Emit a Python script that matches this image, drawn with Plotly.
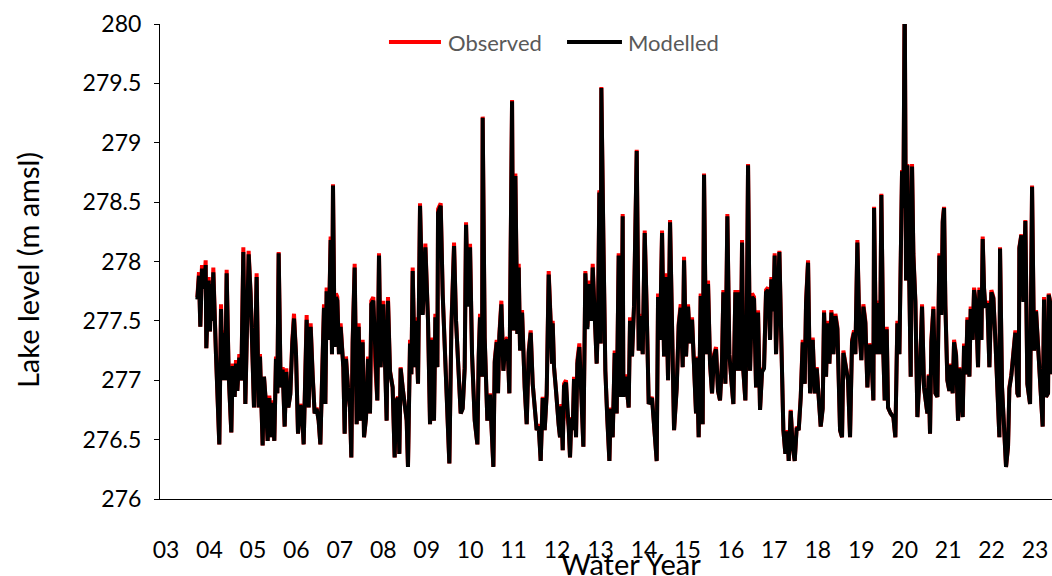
import plotly.graph_objects as go

years = [
2003.721,2003.759,2003.790,2003.828,2003.874,2003.913,2003.928,2003.982,2004.012,2004.043,2004.058,2004.089,2004.150,2004.227,2004.266,2004.304,2004.335,2004.365,2004.396,2004.442,2004.503,2004.534,2004.580,2004.611,2004.641,2004.687,2004.733,2004.780,2004.826,2004.902,2004.948,2004.979,2005.025,2005.086,2005.132,2005.163,2005.224,2005.255,
2005.301,2005.339,2005.378,2005.416,2005.455,2005.493,2005.531,2005.562,2005.593,2005.639,2005.685,2005.731,2005.769,2005.815,2005.861,2005.907,2005.946,2005.992,2006.038,2006.091,2006.130,2006.168,2006.199,2006.237,2006.283,2006.329,2006.375,2006.421,2006.467,2006.513,2006.552,2006.590,2006.636,2006.667,2006.697,2006.743,2006.789,2006.820,2006.843,2006.881,2006.912,
2006.943,2006.981,2007.019,2007.081,2007.112,2007.142,2007.188,2007.234,2007.265,2007.296,2007.342,2007.388,2007.434,2007.480,2007.526,2007.557,2007.603,2007.649,2007.695,2007.725,2007.771,2007.817,2007.863,2007.902,2007.940,2008.001,2008.048,2008.078,2008.109,2008.155,2008.216,2008.262,2008.293,2008.339,2008.370,2008.400,2008.446,2008.492,2008.539,2008.569,
2008.616,2008.647,2008.677,2008.723,2008.754,2008.800,2008.846,2008.908,2008.969,2009.030,2009.076,2009.122,2009.168,2009.199,2009.245,2009.261,2009.322,2009.368,2009.429,2009.475,2009.521,2009.567,2009.629,2009.675,2009.736,2009.782,2009.828,2009.874,2009.905,2009.951,2009.997,2010.043,2010.105,2010.166,2010.197,2010.227,
2010.273,2010.288,2010.334,2010.396,2010.457,2010.534,2010.565,2010.611,2010.641,2010.672,2010.718,2010.764,2010.810,2010.856,2010.902,2010.933,2010.964,2010.994,2011.040,2011.086,2011.117,2011.148,2011.194,2011.255,2011.301,2011.347,2011.393,2011.439,2011.485,2011.531,2011.577,2011.623,2011.669,2011.715,2011.761,2011.807,2011.853,2011.884,
2011.899,2011.930,2011.976,2012.007,2012.037,2012.068,2012.099,2012.130,2012.160,2012.206,2012.237,2012.268,2012.298,2012.329,2012.360,2012.390,2012.436,2012.467,2012.513,2012.559,2012.605,2012.651,2012.697,2012.743,2012.789,2012.820,2012.866,2012.912,2012.943,2012.973,2013.004,2013.019,2013.065,2013.111,2013.158,2013.204,2013.234,2013.280,2013.326,2013.372,2013.418,2013.449,2013.480,2013.510,
2013.526,2013.572,2013.602,2013.648,2013.679,2013.725,2013.771,2013.802,2013.833,2013.879,2013.925,2013.971,2014.017,2014.063,2014.109,2014.185,2014.231,2014.293,2014.324,2014.370,2014.416,2014.462,2014.508,2014.554,2014.600,2014.646,2014.692,2014.753,2014.799,2014.845,2014.891,2014.922,2014.968,2015.014,2015.060,2015.106,2015.152,2015.198,
2015.213,2015.259,2015.305,2015.351,2015.382,2015.428,2015.474,2015.520,2015.566,2015.612,2015.658,2015.704,2015.750,2015.796,2015.827,2015.873,2015.919,2015.965,2016.011,2016.057,2016.103,2016.149,2016.195,2016.226,2016.257,2016.287,2016.333,2016.364,2016.395,2016.441,2016.487,2016.533,2016.579,2016.625,2016.671,2016.717,2016.763,2016.809,2016.855,
2016.870,2016.901,2016.932,2016.978,2017.008,2017.039,2017.085,2017.116,2017.162,2017.208,2017.254,2017.300,2017.331,2017.377,2017.423,2017.469,2017.515,2017.561,2017.607,2017.653,2017.699,2017.730,2017.776,2017.822,2017.883,2017.929,2017.975,2018.021,2018.067,2018.113,2018.144,2018.190,2018.221,2018.267,2018.313,2018.359,2018.405,2018.451,2018.481,2018.512,
2018.558,2018.589,2018.650,2018.696,2018.742,2018.788,2018.834,2018.865,2018.911,2018.957,2019.003,2019.049,2019.095,2019.141,2019.187,2019.233,2019.279,2019.295,2019.341,2019.387,2019.433,2019.463,2019.509,2019.540,2019.586,2019.617,2019.678,2019.739,2019.785,2019.831,2019.878,2019.908,2019.939,2019.970,2020.000,2020.031,2020.062,2020.108,2020.139,2020.169,
2020.200,2020.246,2020.292,2020.353,2020.399,2020.445,2020.476,2020.522,2020.553,2020.583,2020.614,2020.660,2020.706,2020.752,2020.798,2020.844,2020.875,2020.906,2020.936,2020.982,2021.028,2021.059,2021.105,2021.136,2021.182,2021.228,2021.258,2021.305,2021.335,2021.366,2021.412,2021.443,2021.489,2021.519,2021.565,2021.596,2021.642,2021.688,2021.719,2021.765,2021.795,2021.826,
2021.857,2021.903,2021.949,2021.995,2022.041,2022.087,2022.133,2022.179,2022.194,2022.240,2022.286,2022.332,2022.378,2022.409,2022.455,2022.501,2022.547,2022.593,2022.624,2022.639,2022.685,2022.731,2022.777,2022.823,2022.885,2022.931,2022.977,2023.023,2023.084,2023.146,2023.176,2023.207,2023.253,2023.299,2023.314,2023.360,2023.391,
]

observed = [
277.70,277.91,277.45,277.97,277.78,278.01,277.27,277.87,277.41,277.84,277.50,277.95,277.22,276.46,277.64,277.00,277.42,277.00,277.93,277.05,276.56,277.14,276.86,277.17,276.91,277.22,277.00,278.12,276.80,278.09,277.73,277.22,276.77,277.90,276.77,277.22,276.45,277.03,
276.80,276.49,276.87,276.52,276.83,276.49,277.20,276.89,278.08,276.94,277.11,276.61,277.10,276.77,276.89,277.34,277.56,277.22,276.55,276.80,276.75,276.46,277.00,277.55,276.77,277.48,277.05,276.72,276.77,276.66,276.46,277.08,277.64,276.80,277.78,277.34,278.21,277.22,278.65,277.28,277.73,
277.70,277.22,277.48,277.11,276.55,277.20,276.94,276.77,276.35,277.34,277.98,276.63,277.48,276.66,277.34,276.52,276.69,277.20,276.72,277.67,277.70,277.11,276.83,278.07,277.11,277.67,277.11,276.66,277.70,277.08,276.94,276.35,276.83,276.86,276.38,277.11,276.94,276.77,276.66,276.27,
277.34,277.05,277.95,277.11,277.53,276.97,278.49,277.56,278.15,277.50,276.63,277.36,276.66,277.56,277.11,278.44,278.49,277.73,277.22,276.66,276.30,277.45,278.16,277.50,277.00,276.72,276.77,277.11,278.33,277.64,278.15,277.22,276.66,276.46,277.22,277.56,
277.03,279.22,277.36,276.66,276.89,276.27,277.17,277.34,276.89,277.39,277.67,277.08,277.34,277.36,276.89,278.57,279.36,277.42,278.74,277.39,277.98,277.25,277.59,276.94,276.63,277.25,277.42,276.97,276.80,276.58,276.63,276.32,276.86,276.58,276.89,277.92,277.50,277.14,
277.50,277.11,276.91,276.69,276.63,276.52,276.80,276.41,276.97,277.00,276.69,276.61,276.35,276.69,276.58,277.03,276.52,277.17,277.31,276.91,276.44,277.92,277.45,277.84,277.50,277.98,277.56,277.14,277.56,278.60,277.31,279.47,278.21,277.08,276.66,276.32,276.77,276.52,277.25,276.72,278.07,276.86,276.97,278.40,
276.86,277.05,276.94,276.77,277.53,277.20,277.64,278.35,278.94,277.25,277.56,277.22,278.26,277.59,276.80,276.86,276.61,276.32,277.73,277.34,278.26,277.20,277.90,277.00,278.35,277.42,276.58,276.94,277.48,277.64,277.11,278.04,277.20,277.64,277.31,277.53,277.11,276.72,
277.20,276.52,277.73,276.63,278.74,277.22,277.84,277.14,276.89,277.22,277.28,276.91,276.83,277.17,277.76,276.97,278.40,277.22,277.00,276.80,277.76,277.08,277.76,277.08,278.18,277.08,276.83,277.45,278.82,277.08,277.73,277.70,276.94,277.59,276.75,277.08,277.11,277.76,277.78,
277.73,277.34,277.87,277.59,278.07,277.22,277.73,278.09,277.31,276.58,276.38,276.58,276.32,276.75,276.44,276.32,276.61,276.58,276.86,277.34,276.97,277.67,278.01,276.89,277.36,276.89,277.11,276.86,276.61,276.77,277.59,277.03,277.50,277.14,277.59,277.22,277.56,277.45,277.11,276.58,
276.52,277.25,277.11,277.00,276.52,277.34,277.42,277.22,278.18,277.45,277.17,277.64,277.50,276.94,277.31,277.22,276.83,278.46,277.22,277.67,277.22,278.57,277.22,276.83,277.45,276.77,276.72,276.69,276.52,277.50,277.22,278.40,278.77,278.46,280.30,277.84,278.82,277.78,277.03,278.82,
278.07,277.67,276.69,277.11,277.64,276.94,276.83,276.72,277.05,276.55,277.34,277.62,276.89,276.86,278.07,277.56,278.35,278.46,277.64,277.00,276.91,277.14,276.89,277.34,277.22,276.66,277.11,276.86,276.69,277.31,277.05,277.53,277.03,277.62,277.34,277.78,277.64,277.11,277.78,277.34,278.21,277.78,
277.62,277.67,277.11,277.76,277.70,277.34,276.80,276.52,278.12,276.94,276.61,276.27,276.44,276.94,277.05,277.22,277.42,276.89,276.86,278.12,278.23,277.67,278.35,276.97,276.80,278.64,277.25,277.59,277.22,276.80,276.61,277.70,276.86,276.89,277.73,277.64,277.05,
]

modelled = [
277.68,277.88,277.45,277.94,277.77,277.97,277.27,277.84,277.41,277.81,277.50,277.91,277.22,276.46,277.60,277.00,277.40,277.00,277.90,277.05,276.56,277.12,276.86,277.14,276.91,277.19,277.00,278.08,276.80,278.06,277.72,277.22,276.77,277.87,276.77,277.20,276.45,277.03,
276.80,276.49,276.85,276.52,276.81,276.49,277.18,276.89,278.07,276.94,277.09,276.61,277.07,276.77,276.88,277.31,277.52,277.22,276.55,276.79,276.74,276.46,277.00,277.51,276.77,277.45,277.04,276.72,276.76,276.66,276.46,277.06,277.61,276.80,277.75,277.34,278.18,277.22,278.64,277.28,277.70,
277.67,277.22,277.45,277.11,276.55,277.18,276.94,276.77,276.35,277.32,277.95,276.63,277.45,276.66,277.32,276.52,276.68,277.18,276.72,277.64,277.67,277.11,276.83,278.05,277.11,277.64,277.11,276.66,277.67,277.07,276.94,276.35,276.82,276.85,276.38,277.10,276.94,276.77,276.66,276.27,
277.31,277.05,277.92,277.11,277.50,276.97,278.47,277.55,278.12,277.50,276.63,277.34,276.66,277.53,277.11,278.41,278.47,277.72,277.22,276.66,276.30,277.43,278.13,277.50,277.00,276.72,276.76,277.10,278.31,277.62,278.12,277.22,276.66,276.46,277.20,277.53,
277.03,279.21,277.36,276.66,276.88,276.27,277.15,277.32,276.89,277.37,277.64,277.08,277.32,277.34,276.89,278.55,279.35,277.42,278.72,277.39,277.95,277.25,277.57,276.94,276.63,277.23,277.40,276.97,276.80,276.58,276.61,276.32,276.85,276.58,276.88,277.89,277.48,277.14,
277.48,277.11,276.91,276.69,276.62,276.52,276.78,276.41,276.95,276.98,276.69,276.60,276.35,276.68,276.58,277.01,276.52,277.14,277.28,276.91,276.44,277.90,277.43,277.81,277.50,277.95,277.54,277.14,277.54,278.58,277.31,279.46,278.20,277.08,276.66,276.32,276.76,276.52,277.23,276.72,278.05,276.86,276.97,278.38,
276.86,277.03,276.94,276.77,277.50,277.20,277.62,278.34,278.93,277.25,277.54,277.22,278.24,277.58,276.80,276.85,276.61,276.32,277.70,277.34,278.24,277.20,277.87,277.00,278.33,277.42,276.58,276.93,277.46,277.61,277.11,278.01,277.20,277.62,277.31,277.51,277.11,276.72,
277.19,276.52,277.71,276.63,278.73,277.22,277.81,277.14,276.89,277.20,277.26,276.91,276.83,277.16,277.74,276.97,278.38,277.22,277.00,276.80,277.74,277.08,277.74,277.08,278.16,277.08,276.83,277.44,278.81,277.08,277.70,277.68,276.94,277.57,276.75,277.07,277.10,277.74,277.76,
277.72,277.34,277.85,277.58,278.05,277.22,277.72,278.08,277.31,276.58,276.38,276.57,276.32,276.74,276.44,276.32,276.60,276.58,276.85,277.32,276.97,277.65,277.99,276.89,277.34,276.89,277.10,276.86,276.61,276.76,277.57,277.03,277.48,277.14,277.57,277.22,277.54,277.43,277.11,276.58,
276.52,277.23,277.10,277.00,276.52,277.32,277.40,277.22,278.16,277.43,277.17,277.62,277.48,276.94,277.30,277.21,276.83,278.45,277.22,277.65,277.22,278.56,277.22,276.83,277.43,276.77,276.72,276.69,276.52,277.48,277.22,278.38,278.76,278.45,280.30,277.84,278.81,277.77,277.03,278.80,
278.05,277.66,276.69,277.10,277.62,276.94,276.83,276.72,277.04,276.55,277.32,277.60,276.89,276.86,278.05,277.55,278.33,278.45,277.63,277.00,276.91,277.13,276.89,277.32,277.21,276.66,277.10,276.86,276.69,277.29,277.05,277.51,277.03,277.60,277.34,277.76,277.63,277.11,277.76,277.34,278.19,277.77,
277.61,277.65,277.11,277.74,277.69,277.34,276.80,276.52,278.11,276.94,276.61,276.27,276.44,276.93,277.04,277.21,277.40,276.89,276.86,278.11,278.22,277.66,278.34,276.97,276.80,278.63,277.25,277.58,277.22,276.80,276.61,277.68,276.86,276.89,277.72,277.63,277.05,
]

tick_years = list(range(2003, 2024))
tick_labels = [f"{y % 100:02d}" for y in tick_years]
y_ticks = [276, 276.5, 277, 277.5, 278, 278.5, 279, 279.5, 280]
y_labels = ["276", "276.5", "277", "277.5", "278", "278.5", "279", "279.5", "280"]
series_names = ["Observed", "Modelled"]
series_colors = ["#ff0000", "#000000"]

FONT = "Lato, 'Open Sans', sans-serif"

fig = go.Figure()
fig.add_trace(go.Scatter(x=years, y=observed, mode="lines", name=series_names[0],
                         line=dict(color=series_colors[0], width=4), showlegend=False))
fig.add_trace(go.Scatter(x=years, y=modelled, mode="lines", name=series_names[1],
                         line=dict(color=series_colors[1], width=4), showlegend=False))

# legend drawn as key lines + text, placed like the reference (top centre)
legend_y = 0.962
key_spans = [(0.2567, 0.3150), (0.4563, 0.5179)]
text_x = [0.3206, 0.5224]
shapes = []
annotations = []
for name, col, (x0, x1), tx in zip(series_names, series_colors, key_spans, text_x):
    shapes.append(dict(type="line", xref="paper", yref="paper", x0=x0, x1=x1,
                       y0=legend_y, y1=legend_y, line=dict(color=col, width=4)))
    annotations.append(dict(text=name, xref="paper", yref="paper", x=tx, y=legend_y,
                            xanchor="left", yanchor="middle", showarrow=False,
                            font=dict(size=22, color="#595959")))

annotations += [
    dict(text="Water Year", xref="paper", yref="paper", x=0.528, y=0,
         xanchor="center", yanchor="middle", yshift=-64, showarrow=False,
         font=dict(size=29, color="black")),
    dict(text="Lake level (m amsl)", xref="paper", yref="paper", x=0, y=0.482,
         xanchor="center", yanchor="middle", xshift=-133, textangle=-90,
         showarrow=False, font=dict(size=29, color="black")),
]

fig.update_layout(
    width=1052, height=576,
    margin=dict(l=160, r=0, t=24, b=77),
    paper_bgcolor="white", plot_bgcolor="white",
    font=dict(family=FONT, color="black"),
    showlegend=False,
    xaxis=dict(range=[2002.862, 2023.39], tickmode="array", tickvals=tick_years,
               ticktext=tick_labels, showgrid=False, zeroline=False,
               showline=True, linecolor="#000000", linewidth=1,
               ticks="", tickfont=dict(size=23, color="black"),
               ticklabelstandoff=30),
    yaxis=dict(range=[276, 280], tickmode="array", tickvals=y_ticks, ticktext=y_labels,
               showgrid=False, zeroline=False, showline=True,
               linecolor="#000000", linewidth=1, ticks="outside", ticklen=5,
               tickcolor="#000000", tickfont=dict(size=23, color="black"),
               ticklabelstandoff=8),
    shapes=shapes,
    annotations=annotations,
)

fig.write_html("out.html")
